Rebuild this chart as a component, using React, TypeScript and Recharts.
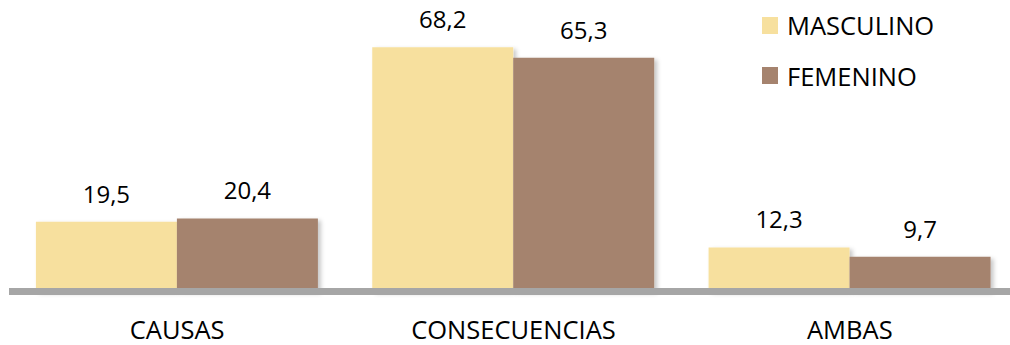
import React from 'react';
import { BarChart, Bar, XAxis, YAxis, LabelList, Legend } from 'recharts';

// Categories and values per sex (percent)
const categories = ['CAUSAS', 'CONSECUENCIAS', 'AMBAS'];
const masculino = [19.5, 68.2, 12.3];
const femenino = [20.4, 65.3, 9.7];
const seriesNames = ['MASCULINO', 'FEMENINO'];
const yDomain = [0, 80];

const COLORS = ['#F7E09E', '#A5836E'];
const FONT = '"Open Sans", "Noto Sans", sans-serif';

const data = categories.map((c, i) => ({
  categoria: c,
  masculino: masculino[i],
  femenino: femenino[i],
}));

const fmt = (v: number | string) => String(v).replace('.', ',');

// Legend keeps the series order (masculino first)
const renderLegend = (props: any) => {
  const payload = [...(props.payload || [])].sort(
    (a: any, b: any) => seriesNames.indexOf(a.value) - seriesNames.indexOf(b.value)
  );
  return (
    <div style={{ fontFamily: FONT, fontSize: 25.5, color: '#000' }}>
      {payload.map((entry: any) => (
        <div
          key={entry.value}
          style={{ display: 'flex', alignItems: 'center', height: 50.5 }}
        >
          <span
            style={{
              display: 'inline-block',
              width: 16,
              height: 17,
              background: entry.color,
              marginRight: 9,
            }}
          />
          <span>{entry.value}</span>
        </div>
      ))}
    </div>
  );
};

export default function App() {
  return (
    <div
      style={{
        position: 'fixed',
        left: 0,
        top: 0,
        width: 1010,
        height: 345,
        overflow: 'hidden',
        background: '#fff',
      }}
    >
      <BarChart
        width={1020}
        height={345}
        data={data}
        margin={{ top: 5, right: 2, left: 9, bottom: 0 }}
        barCategoryGap="8%"
        barGap={0}
      >
        <defs>
          <filter id="barShadow" x="-10%" y="-10%" width="130%" height="130%">
            <feDropShadow dx="3" dy="2" stdDeviation="2" floodColor="#000" floodOpacity="0.22" />
          </filter>
        </defs>
        <YAxis hide domain={yDomain} />
        <Bar
          dataKey="masculino"
          name={seriesNames[0]}
          fill={COLORS[0]}
          filter="url(#barShadow)"
          isAnimationActive={false}
        >
          <LabelList
            dataKey="masculino"
            position="top"
            offset={19}
            formatter={fmt}
            style={{ fontFamily: FONT, fontSize: 24, fill: '#000' }}
          />
        </Bar>
        <Bar
          dataKey="femenino"
          name={seriesNames[1]}
          fill={COLORS[1]}
          filter="url(#barShadow)"
          isAnimationActive={false}
        >
          <LabelList
            dataKey="femenino"
            position="top"
            offset={19}
            formatter={fmt}
            style={{ fontFamily: FONT, fontSize: 24, fill: '#000' }}
          />
        </Bar>
        <XAxis
          dataKey="categoria"
          height={53.5}
          axisLine={{ stroke: '#A6A6A6', strokeWidth: 7 }}
          tickLine={false}
          tickSize={0}
          tickMargin={29}
          tick={{ fontFamily: FONT, fontSize: 25.5, fill: '#000' }}
          interval={0}
        />
        <Legend
          layout="vertical"
          align="center"
          verticalAlign="middle"
          content={renderLegend}
          wrapperStyle={{ left: 762, top: 0, width: 250 }}
        />
      </BarChart>
    </div>
  );
}
